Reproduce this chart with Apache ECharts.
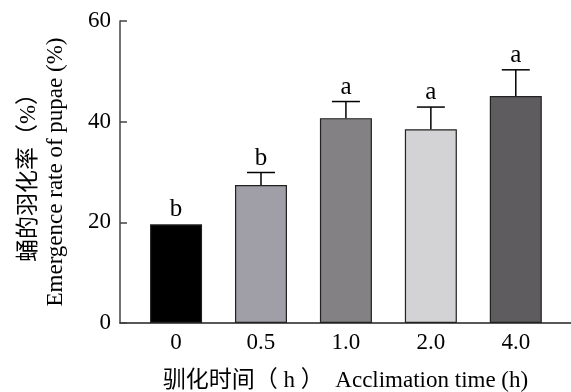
<!DOCTYPE html>
<html><head><meta charset="utf-8">
<script src="https://cdn.jsdelivr.net/npm/echarts@6/dist/echarts.min.js"></script>
<style>html,body{margin:0;padding:0;background:#fff}#c{width:571px;height:392px}</style>
</head><body><div id="c"></div>
<script>
var categories = ['0', '0.5', '1.0', '2.0', '4.0'];
var values = [19.6, 27.4, 40.7, 38.5, 45.1];
var errors = [0, 2.5, 3.3, 4.4, 5.2];
var letters = ['b', 'b', 'a', 'a', 'a'];
var yTicks = [0, 20, 40, 60];
var colors = ['#000000', '#a09ea6', '#838184', '#d3d3d5', '#5f5c5f'];

var serif = '"Liberation Serif", "Times New Roman", "Noto Sans CJK SC", serif';
var idx = categories.map(function (c, i) { return i; });
var barData = values.map(function (v, i) { return [i, v]; });
var errData = values.map(function (v, i) { return [i, v, errors[i]]; });

var chart = echarts.init(document.getElementById('c'));
chart.setOption({
  animation: false,
  grid: { left: 120, right: 0, top: 21, bottom: 69, containLabel: false, outerBoundsMode: 'none' },
  xAxis: {
    type: 'value', min: -0.66, max: 4.65,
    name: '驯化时间（ h ）  Acclimation time (h)',
    nameLocation: 'middle', nameGap: 46,
    nameTextStyle: { fontFamily: serif, fontSize: 23, color: '#000' },
    axisLine: { show: true, onZero: false, lineStyle: { color: '#222', width: 1.5 } },
    axisTick: { show: true, inside: true, length: 7, customValues: idx, lineStyle: { color: '#222', width: 1.5 } },
    axisLabel: { customValues: idx, formatter: function (v) { return categories[Math.round(v)]; },
      fontFamily: serif, fontSize: 23, color: '#000', margin: 8 },
    splitLine: { show: false }
  },
  yAxis: {
    type: 'value', min: 0, max: 60, interval: 20,
    name: '蛹的羽化率（%）\nEmergence rate of pupae (%)',
    nameLocation: 'middle', nameRotate: 90, nameGap: 51,
    nameTextStyle: { fontFamily: serif, fontSize: 23, color: '#000', lineHeight: 27 },
    axisLine: { show: true, onZero: false, lineStyle: { color: '#444', width: 1.5 } },
    axisTick: { show: true, inside: true, length: 7, lineStyle: { color: '#444', width: 1.5 } },
    axisLabel: { fontFamily: serif, fontSize: 23, color: '#000', margin: 9,
      formatter: function (v) { return yTicks.indexOf(v) >= 0 ? String(v) : ''; } },
    splitLine: { show: false }
  },
  series: [{
    type: 'bar', data: barData, barWidth: 52, z: 1,
    itemStyle: { color: function (p) { return colors[p.dataIndex]; }, borderColor: '#222', borderWidth: 1.2 }
  }, {
    type: 'custom', data: errData, z: 3,
    renderItem: function (params, api) {
      var x = api.value(0), v = api.value(1), e = api.value(2);
      var base = api.coord([x, v]);
      var top = api.coord([x, v + e]);
      var children = [];
      if (e > 0) {
        children.push({ type: 'line', shape: { x1: base[0], y1: base[1], x2: top[0], y2: top[1] }, style: { stroke: '#000', lineWidth: 1.5 } });
        children.push({ type: 'line', shape: { x1: top[0] - 14, y1: top[1], x2: top[0] + 14, y2: top[1] }, style: { stroke: '#000', lineWidth: 1.5 } });
      }
      children.push({ type: 'text', style: { text: letters[params.dataIndex], x: top[0], y: top[1] - 2,
        textAlign: 'center', textVerticalAlign: 'bottom', font: '25px ' + serif, fill: '#000' } });
      return { type: 'group', children: children };
    }
  }]
});
</script></body></html>
